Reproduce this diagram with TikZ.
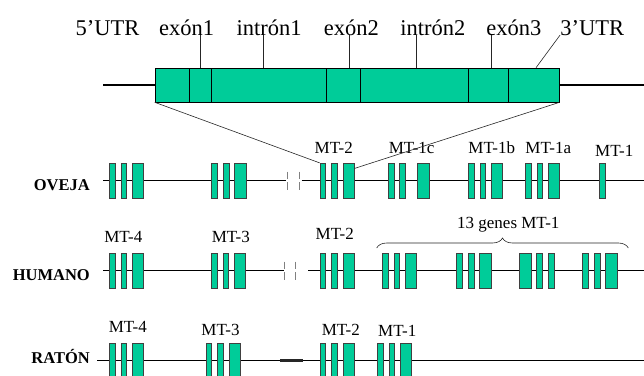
\documentclass[tikz,border=0pt]{standalone}
\usepackage{fontspec}
\setmainfont{Liberation Serif}
\usetikzlibrary{decorations.pathreplacing}
\definecolor{mtgreen}{RGB}{0,204,153}

\begin{document}
\begin{tikzpicture}[x=1pt, y=-1pt,
    segbox/.style={rectangle, draw=black, fill=mtgreen, minimum height=34pt, inner sep=0pt, line width=0.6pt},
    exthin/.style={rectangle, draw=black!75, fill=mtgreen, minimum width=5.7pt, minimum height=35pt, inner sep=0pt, line width=0.6pt},
    exwide/.style={exthin, minimum width=11.4pt},
    toplbl/.style={font=\fontsize{22.5}{22.5}\selectfont, anchor=base, inner sep=0pt},
    mtlbl/.style={font=\fontsize{17}{17}\selectfont, anchor=base, inner sep=0pt},
    species/.style={font=\fontsize{16.5}{16.5}\selectfont\bfseries, anchor=base east, inner sep=0pt},
    backbone/.style={line width=1.3pt},
    pointer/.style={line width=0.6pt, black!85},
    brk/.style={gray, line width=0.7pt, dash pattern=on 7.5pt off 3pt}
]
\useasboundingbox (0,0) rectangle (644,375);

% gen ampliado
\coordinate (topL) at (103.3,85);
\coordinate (topR) at (644,85);
\draw[backbone] (topL) -- (topR);
\node[segbox, minimum width=34.3pt] (utr5) at (172.15,85) {};
\node[segbox, minimum width=22.4pt] (ex1) at (200.5,85) {};
\node[segbox, minimum width=114.3pt] (in1) at (268.85,85) {};
\node[segbox, minimum width=34.3pt] (ex2) at (343.15,85) {};
\node[segbox, minimum width=108pt] (in2) at (414.3,85) {};
\node[segbox, minimum width=40.4pt] (ex3) at (488.5,85) {};
\node[segbox, minimum width=50.6pt] (utr3) at (534,85) {};

\node[toplbl] (lutr5) at (107.5,35) {5’UTR};
\node[toplbl] (lex1) at (186.7,35) {exón1};
\node[toplbl] (lin1) at (269,35) {intrón1};
\node[toplbl] (lex2) at (351.3,35) {exón2};
\node[toplbl] (lin2) at (432.8,35) {intrón2};
\node[toplbl] (lex3) at (513.8,35) {exón3};
\node[toplbl] (lutr3) at (592.2,35) {3’UTR};

\draw[pointer] (ex1.north) -- ++(0,-33);
\draw[pointer] ([xshift=-6pt]in1.north) -- ++(0,-33);
\draw[pointer] ([xshift=6pt]ex2.north) -- ++(0,-33);
\draw[pointer] ([xshift=2.4pt]in2.north) -- ++(0,-33);
\draw[pointer] ([xshift=2.5pt]ex3.north) -- ++(0,-33);
\draw[pointer] ([xshift=2pt]utr3.north) -- (lutr3.base west);

% oveja
\node[species] (oveja) at (90,190) {OVEJA};
\coordinate (ovL) at (103.3,180.7);
\coordinate (ovgapL) at (286,180.7);
\coordinate (ovgapR) at (301.7,180.7);
\coordinate (ovR) at (644,180.7);
\draw[backbone] (ovL) -- (ovgapL) (ovgapR) -- (ovR);
\draw[brk] (287.5,171.5) -- (287.5,190.5) (299,171.5) -- (299,190.5);
\foreach \x/\n in {109.3/ov4, 211.7/ov3, 320/ov2, 468.3/ov1b, 525.3/ov1a}{
  \node[exthin] (\n a) at (\x+2.85,180.7) {};
  \node[exthin] (\n b) at (\x+14.5,180.7) {};
  \node[exwide] (\n c) at (\x+28.6,180.7) {};
}
\node[exthin] (ov1ca) at (391.3,180.7) {};
\node[exthin] (ov1cb) at (402.3,180.7) {};
\node[exwide, minimum width=11.7pt] (ov1cc) at (423.15,180.7) {};
\node[exthin] (ov1) at (602.3,180.7) {};

\node[mtlbl] (ovmt2) at (333.7,153.3) {MT-2};
\node[mtlbl] (ovmt1c) at (411.7,153.3) {MT-1c};
\node[mtlbl] (ovmt1b) at (491.7,153.3) {MT-1b};
\node[mtlbl] (ovmt1a) at (548.3,153.3) {MT-1a};
\node[mtlbl] (ovmt1) at (614.2,156) {MT-1};

\draw[pointer] (utr5.south west) -- (ov2a.north west);
\draw[pointer] (utr3.south east) -- (ov2c.64);

% humano
\node[species] (humano) at (90,280) {HUMANO};
\coordinate (huL) at (103.3,270.7);
\coordinate (hugapL) at (284,270.7);
\coordinate (hugapR) at (308.3,270.7);
\coordinate (huR) at (644,270.7);
\draw[backbone] (huL) -- (hugapL) (hugapR) -- (huR);
\draw[brk] (284,261.5) -- (284,282.5) (295,261.5) -- (295,282.5);
\foreach \x/\n in {109.3/hu4, 211.3/hu3, 320/hu2, 382.3/hu1a, 456.7/hu1b, 582.7/hu1d}{
  \node[exthin] (\n a) at (\x+2.85,270.7) {};
  \node[exthin] (\n b) at (\x+14.5,270.7) {};
  \node[exwide] (\n c) at (\x+28.6,270.7) {};
}
\node[exwide, minimum width=12pt] (hu1ca) at (525.3,270.7) {};
\node[exthin] (hu1cb) at (539.5,270.7) {};
\node[exthin] (hu1cc) at (551.15,270.7) {};

\node[mtlbl] (humt4) at (123.3,242.7) {MT-4};
\node[mtlbl] (humt3) at (230.8,242.7) {MT-3};
\node[mtlbl] (humt2) at (334.7,239.3) {MT-2};
\node[mtlbl] (humt1) at (508.3,228.3) {13 genes MT-1};
\coordinate (brL) at (376.7,248);
\coordinate (brR) at (628.3,248);
\draw[pointer, decorate, decoration={brace, amplitude=10pt}] (brL) -- (brR);

% raton
\node[species] (raton) at (90,363.3) {RATÓN};
\coordinate (raL) at (97.3,360.7);
\coordinate (raR) at (644,360.7);
\draw[backbone] (raL) -- (raR);
\draw[line width=2.6pt, black!85] (280,360.7) -- (302.7,360.7);
\foreach \x/\n in {109.3/ra4, 206/ra3, 320/ra2, 377.3/ra1}{
  \node[exthin] (\n a) at (\x+2.85,360.7) {};
  \node[exthin] (\n b) at (\x+14.5,360.7) {};
  \node[exwide] (\n c) at (\x+28.6,360.7) {};
}

\node[mtlbl] (ramt4) at (127.8,332.7) {MT-4};
\node[mtlbl] (ramt3) at (220.5,335.7) {MT-3};
\node[mtlbl] (ramt2) at (340.8,335.7) {MT-2};
\node[mtlbl] (ramt1) at (397.2,336) {MT-1};

\end{tikzpicture}
\end{document}
